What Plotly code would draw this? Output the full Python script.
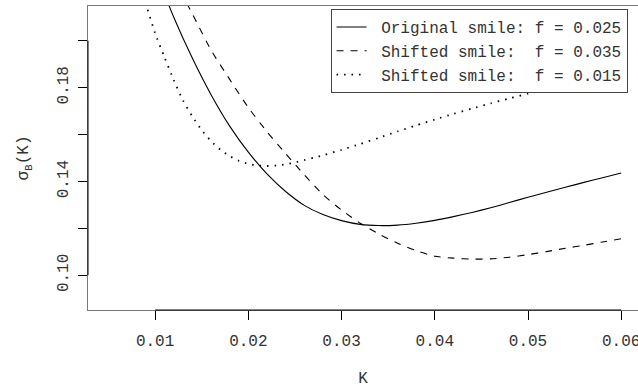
import plotly.graph_objects as go

# Strike grids and implied Black volatilities for the three smiles
k_orig = [0.010, 0.012, 0.014, 0.016, 0.018, 0.020, 0.022, 0.024, 0.026, 0.028,
          0.030, 0.032, 0.034, 0.036, 0.038, 0.040, 0.042, 0.044, 0.046, 0.048,
          0.050, 0.052, 0.054, 0.056, 0.058, 0.060]
vol_orig = [0.230, 0.210, 0.1925, 0.1770, 0.1636, 0.1525, 0.1432, 0.1357, 0.1298, 0.1259,
            0.1233, 0.1217, 0.1212, 0.1214, 0.1222, 0.1234, 0.1250, 0.1268, 0.1288, 0.1310,
            0.1333, 0.1354, 0.1375, 0.1396, 0.1416, 0.1436]

k_up = [0.012, 0.014, 0.016, 0.018, 0.020, 0.022, 0.024, 0.026, 0.028, 0.030,
        0.032, 0.034, 0.036, 0.038, 0.040, 0.042, 0.044, 0.046, 0.048, 0.050,
        0.052, 0.054, 0.056, 0.058, 0.060]
vol_up = [0.2266, 0.2114, 0.1960, 0.1835, 0.1715, 0.1612, 0.1519, 0.1428, 0.1344, 0.1278,
          0.1222, 0.1176, 0.1137, 0.1105, 0.1081, 0.1073, 0.1069, 0.1070, 0.1077, 0.1088,
          0.1101, 0.1115, 0.1128, 0.1142, 0.1156]

k_down = [0.008, 0.009, 0.010, 0.011, 0.012, 0.013, 0.014, 0.015, 0.016, 0.017,
          0.018, 0.019, 0.020, 0.021, 0.022, 0.023, 0.024, 0.025, 0.026, 0.027,
          0.028, 0.030, 0.032, 0.034, 0.036, 0.038, 0.040, 0.042, 0.044, 0.046,
          0.048, 0.050, 0.052, 0.054, 0.056, 0.058, 0.060]
vol_down = [0.225, 0.2155, 0.2032, 0.1930, 0.1832, 0.1745, 0.1677, 0.1619, 0.1572, 0.1535,
            0.1508, 0.1488, 0.1475, 0.1468, 0.1466, 0.1468, 0.1473, 0.1481, 0.1491, 0.1501,
            0.1511, 0.1535, 0.1560, 0.1586, 0.1613, 0.1639, 0.1664, 0.1688, 0.1711, 0.1733,
            0.1754, 0.1774, 0.1793, 0.1812, 0.1831, 0.1850, 0.1869]

series_names = ["\u00a0Original smile: f = 0.025",
                "\u00a0Shifted smile:\u00a0 f = 0.035",
                "\u00a0Shifted smile:\u00a0 f = 0.015"]

x_ticks = [0.01, 0.02, 0.03, 0.04, 0.05, 0.06]
x_ticklabels = ["0.01", "0.02", "0.03", "0.04", "0.05", "0.06"]
y_ticks = [0.10, 0.14, 0.18]
y_ticklabels = ["0.10", "0.14", "0.18"]
y_minor_ticks = [0.12, 0.16, 0.20]

FONT = "Liberation Mono, Courier New, monospace"
TXT = "#333333"

fig = go.Figure()
fig.add_trace(go.Scatter(x=k_orig, y=vol_orig, mode="lines", name=series_names[0],
                         line=dict(color="black", width=1.1, shape="spline", smoothing=0.6)))
fig.add_trace(go.Scatter(x=k_up, y=vol_up, mode="lines", name=series_names[1],
                         line=dict(color="black", width=1.1, dash="7px,7px",
                                   shape="spline", smoothing=0.6)))
fig.add_trace(go.Scatter(x=k_down, y=vol_down, mode="lines", name=series_names[2],
                         line=dict(color="black", width=1.8, dash="1.5px,6px",
                                   shape="spline", smoothing=0.6)))

# axis segments spanning first to last tick
fig.add_shape(type="line", xref="x", yref="paper", x0=x_ticks[0], x1=x_ticks[-1],
              y0=0, y1=0, line=dict(color="black", width=1))
fig.add_shape(type="line", xref="paper", yref="y", x0=0, x1=0,
              y0=y_ticks[0], y1=y_minor_ticks[-1], line=dict(color="black", width=1))

fig.update_layout(
    width=638, height=388,
    margin=dict(l=88, r=0, t=6, b=78),
    plot_bgcolor="white", paper_bgcolor="white",
    font=dict(family=FONT, size=16, color=TXT),
    showlegend=True,
    legend=dict(x=0.441, y=0.99, xanchor="left", yanchor="top",
                bgcolor="white", bordercolor="#444444", borderwidth=1,
                font=dict(family=FONT, size=16, color=TXT),
                tracegroupgap=0),
    xaxis=dict(range=[0.0028, 0.0618], showgrid=False, zeroline=False,
               showline=True, linecolor="#777777", linewidth=1, mirror=True,
               tickmode="array", tickvals=x_ticks, ticktext=x_ticklabels,
               ticks="outside", ticklen=9, tickcolor="black", tickwidth=1,
               ticklabelstandoff=7, ticklabeloverflow="allow", automargin=False,
               title=dict(text="K", standoff=24, font=dict(size=16))),
    yaxis=dict(range=[0.0852, 0.2148], showgrid=False, zeroline=False,
               showline=True, linecolor="#777777", linewidth=1,
               tickmode="array", tickvals=y_ticks, ticktext=y_ticklabels,
               ticks="outside", ticklen=9, tickcolor="black", tickwidth=1,
               minor=dict(tickmode="array", tickvals=y_minor_ticks, ticks="outside",
                          ticklen=9, tickcolor="black", tickwidth=1, showgrid=False),
               tickangle=-90, ticklabelstandoff=4, automargin=False,
               title=dict(text="σ<sub>B</sub>(K)", standoff=21, font=dict(size=16))),
)

fig.write_html("out.html")
